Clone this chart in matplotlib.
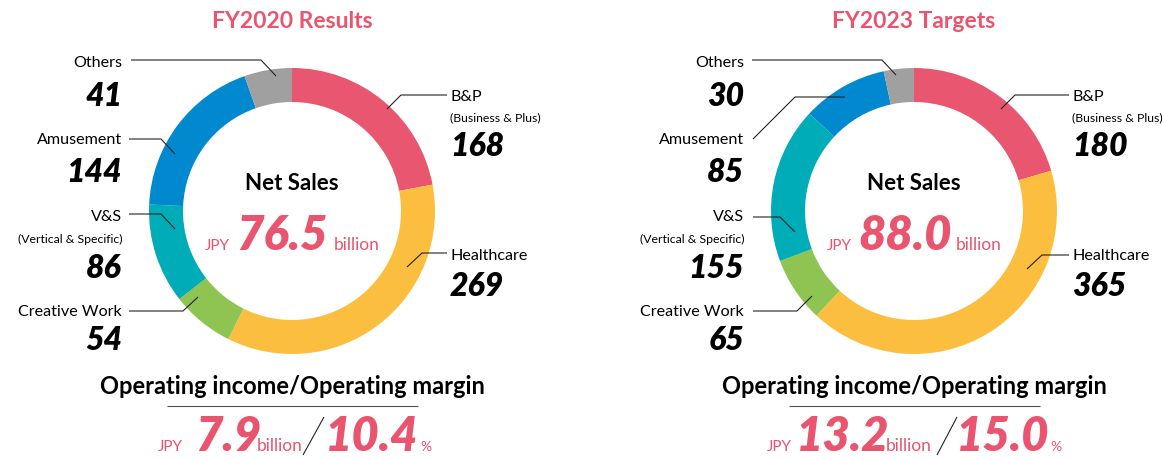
import matplotlib.pyplot as plt

# segment net sales, 100 million JPY
segments = ["B&P", "Healthcare", "Creative Work", "V&S", "Amusement", "Others"]
sales_2020 = [168, 269, 54, 86, 144, 41]
sales_2023 = [180, 365, 65, 155, 85, 30]
seg_colors = ["#E8566F", "#FBBE3E", "#8FC453", "#00ACB7", "#0089CE", "#9FA09F"]

titles = ["FY2020 Results", "FY2023 Targets"]
net_sales = ["76.5", "88.0"]
op_income = ["7.9", "13.2"]
op_margin = ["10.4", "15.0"]

PINK = "#E9546F"
W, H = 1163, 460
FONT = "Lato"
NUM = dict(fontsize=23, fontweight="heavy", style="italic")
BIG = dict(color=PINK, fontsize=34, fontweight="heavy", style="italic")

fig = plt.figure(figsize=(W / 100, H / 100), dpi=100)
ax = fig.add_axes([0, 0, 1, 1])


def txt(x, y, s, **kw):
    # y measured from top, like the picture
    kw.setdefault("family", FONT)
    ax.text(x, H - y, s, **kw)


def poly(pts, **kw):
    ax.plot([p[0] for p in pts], [H - p[1] for p in pts], color="#222222", lw=0.8,
            solid_capstyle="butt", **kw)


panels = [
    dict(cx=292, vals=sales_2020,
         leaders={"Others": [(131, 61), (261, 61), (276, 77)],
                  "Amusement": [(129, 140), (161, 140), (175, 155)],
                  "V&S": [(129, 215), (161, 215), (175, 230)],
                  "Creative Work": [(129, 312), (183, 312), (198, 298)],
                  "B&P": [(447, 96), (401, 96), (387, 110)],
                  "Healthcare": [(447, 254), (422, 254), (407, 268)]},
         bottom_x=[158, 195, 257, 325, 420], slash=[(303, 456), (324, 418)]),
    dict(cx=914, vals=sales_2023,
         leaders={"Others": [(752, 61), (882, 61), (896, 76)],
                  "Amusement": [(753, 140), (795, 98), (845, 98)],
                  "V&S": [(753, 218), (780, 218), (795, 233)],
                  "Creative Work": [(753, 312), (797, 312), (812, 297)],
                  "B&P": [(1069, 96), (1015, 96), (1001, 110)],
                  "Healthcare": [(1069, 256), (1042, 256), (1027, 270)]},
         bottom_x=[767, 796, 886, 956, 1050], slash=[(937, 456), (957, 418)]),
]

for i, p in enumerate(panels):
    cx = p["cx"]
    vals = dict(zip(segments, p["vals"]))
    ax.pie(p["vals"], colors=seg_colors, startangle=90, counterclock=False,
           radius=143, center=(cx, H - 212),
           wedgeprops=dict(width=34, linewidth=0))

    txt(cx, 22, titles[i], color=PINK, fontsize=16.5, fontweight="bold",
        ha="center", va="center")

    # left-side labels
    lx = cx - 170
    txt(lx, 63, "Others", fontsize=11.6, ha="right", va="center")
    txt(lx, 96, str(vals["Others"]), ha="right", va="center", **NUM)
    txt(lx, 140, "Amusement", fontsize=11.6, ha="right", va="center")
    txt(lx, 173, str(vals["Amusement"]), ha="right", va="center", **NUM)
    txt(lx, 217, "V&S", fontsize=11.6, ha="right", va="center")
    txt(lx, 239, "(Vertical & Specific)", fontsize=8.8, ha="right", va="center")
    txt(lx, 268, str(vals["V&S"]), ha="right", va="center", **NUM)
    txt(lx, 312, "Creative Work", fontsize=11.6, ha="right", va="center")
    txt(lx, 341, str(vals["Creative Work"]), ha="right", va="center", **NUM)

    # right-side labels
    rx = cx + 158
    txt(rx, 97, "B&P", fontsize=11.6, ha="left", va="center")
    txt(rx, 118, "(Business & Plus)", fontsize=8.8, ha="left", va="center")
    txt(rx, 147, str(vals["B&P"]), ha="left", va="center", **NUM)
    txt(rx, 256, "Healthcare", fontsize=11.6, ha="left", va="center")
    txt(rx, 287, str(vals["Healthcare"]), ha="left", va="center", **NUM)

    for pts in p["leaders"].values():
        poly(pts)

    # centre of the donut
    txt(cx, 183, "Net Sales", fontsize=16, fontweight="bold", ha="center", va="center")
    txt(cx - 87, 250, "JPY", color=PINK, fontsize=11, ha="left", va="baseline")
    txt(cx - 56, 250, net_sales[i], ha="left", va="baseline", **BIG)
    txt(cx + 42, 250, "billion", color=PINK, fontsize=12.5, ha="left", va="baseline")

    # operating income / margin
    txt(cx, 394, "Operating income/Operating margin", fontsize=17,
        fontweight="bold", ha="center", va="baseline")
    poly([(cx - 125, 407), (cx + 126, 407)], alpha=0.8)
    bx = p["bottom_x"]
    txt(bx[0], 451, "JPY", color=PINK, fontsize=11, ha="left", va="baseline")
    txt(bx[1], 451, op_income[i], ha="left", va="baseline", **BIG)
    txt(bx[2], 451, "billion", color=PINK, fontsize=12.5, ha="left", va="baseline")
    poly(p["slash"])
    txt(bx[3], 451, op_margin[i], ha="left", va="baseline", **BIG)
    txt(bx[4], 451, "%", color=PINK, fontsize=10, ha="left", va="baseline")

ax.set_xlim(0, W)
ax.set_ylim(0, H)
ax.set_aspect("auto")
ax.axis("off")

fig.savefig("out.png", dpi=100)
